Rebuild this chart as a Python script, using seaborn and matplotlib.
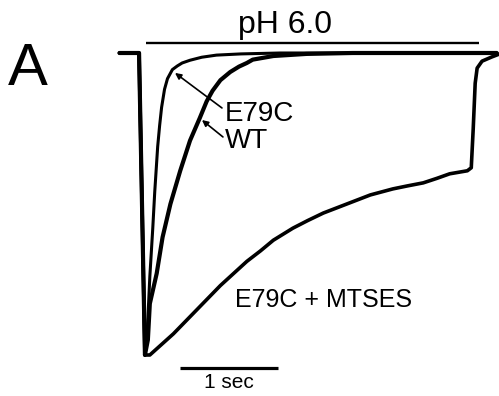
import matplotlib
matplotlib.use("Agg")
import matplotlib.pyplot as plt
import seaborn as sns
import pandas as pd

# Normalized whole-cell currents (0 = baseline, -1 = peak) versus time (s)
wt_t = [-0.24, -0.04, 0.02, 0.05, 0.07, 0.14, 0.20, 0.28, 0.38, 0.48, 0.58,
        0.65, 0.71, 0.79, 0.89, 0.98, 1.06, 1.12, 1.33, 1.67, 2.14, 3.61]
wt_i = [0.0, 0.0, -1.0, -0.95, -0.83, -0.73, -0.61, -0.50, -0.39, -0.29, -0.215,
        -0.16, -0.125, -0.09, -0.063, -0.045, -0.033, -0.022, -0.010, -0.003, 0.0, 0.0]

e79c_t = [-0.24, -0.04, 0.02, 0.04, 0.07, 0.10, 0.12, 0.15, 0.17, 0.19, 0.22,
          0.25, 0.30, 0.35, 0.40, 0.48, 0.60, 0.75, 1.00, 1.40, 3.61]
e79c_i = [0.0, 0.0, -1.0, -0.95, -0.74, -0.58, -0.46, -0.31, -0.24, -0.18, -0.12,
          -0.085, -0.055, -0.043, -0.033, -0.024, -0.014, -0.007, -0.003, 0.0, 0.0]

mtses_t = [-0.24, -0.04, 0.02, 0.07, 0.31, 0.55, 0.79, 1.06, 1.20, 1.33, 1.53,
           1.68, 1.84, 1.96, 2.08, 2.20, 2.32, 2.55, 2.70, 2.86, 3.00, 3.13,
           3.22, 3.31, 3.35, 3.37, 3.39, 3.41, 3.46, 3.56, 3.64]
mtses_i = [0.0, 0.0, -1.0, -1.0, -0.93, -0.85, -0.77, -0.69, -0.655, -0.62, -0.58,
           -0.555, -0.53, -0.515, -0.50, -0.485, -0.47, -0.45, -0.44, -0.43, -0.415,
           -0.40, -0.395, -0.39, -0.38, -0.25, -0.10, -0.05, -0.027, -0.013, -0.003]

trace_names = ["WT", "E79C", "E79C + MTSES"]
trace_widths = [3.0, 2.2, 2.6]

# pH 6.0 application period (s) and scale bar (s)
ph_period = [0.03, 3.43]
scale_bar = [0.378, 1.378]

frames = []
for name, t, i in zip(trace_names, [wt_t, e79c_t, mtses_t], [wt_i, e79c_i, mtses_i]):
    frames.append(pd.DataFrame({"time": t, "current": i, "trace": name}))
df = pd.concat(frames, ignore_index=True)

sns.set_style("white")
plt.rcParams["font.family"] = ["Liberation Sans", "DejaVu Sans"]
plt.rcParams["text.color"] = "black"

fig = plt.figure(figsize=(4.99, 3.96), dpi=100)
ax = fig.add_axes([0, 0, 1, 1])

for name, lw in zip(trace_names, trace_widths):
    sns.lineplot(data=df[df["trace"] == name], x="time", y="current",
                 sort=False, estimator=None, color="black", linewidth=lw,
                 ax=ax, legend=False)

# solution exchange bar
ax.plot(ph_period, [0.033, 0.033], color="black", lw=1.7, solid_capstyle="butt")
ax.text(1.449, 0.066, "pH 6.0", ha="center", va="baseline", fontsize=23)

# scale bar
ax.plot(scale_bar, [-1.043, -1.043], color="black", lw=2.3, solid_capstyle="butt")
ax.text(0.878, -1.109, "1 sec", ha="center", va="baseline", fontsize=15)

# trace labels with arrows
arrow = dict(arrowstyle="-|>", color="black", lw=1.2, mutation_scale=9,
             shrinkA=0, shrinkB=0)
ax.text(0.837, -0.225, "E79C", ha="left", va="baseline", fontsize=20)
ax.text(0.837, -0.315, "WT", ha="left", va="baseline", fontsize=20)
ax.annotate("", xy=(0.327, -0.066), xytext=(0.806, -0.182), arrowprops=arrow)
ax.annotate("", xy=(0.602, -0.222), xytext=(0.816, -0.278), arrowprops=arrow)
ax.text(0.939, -0.841, "E79C + MTSES", ha="left", va="baseline", fontsize=18)

# panel letter
ax.text(-1.378, -0.106, "A", ha="left", va="baseline", fontsize=43)

ax.set_xlim(-1.459, 3.633)
ax.set_ylim(-1.1358, 0.1755)
ax.axis("off")

fig.savefig("out.png", dpi=100)
